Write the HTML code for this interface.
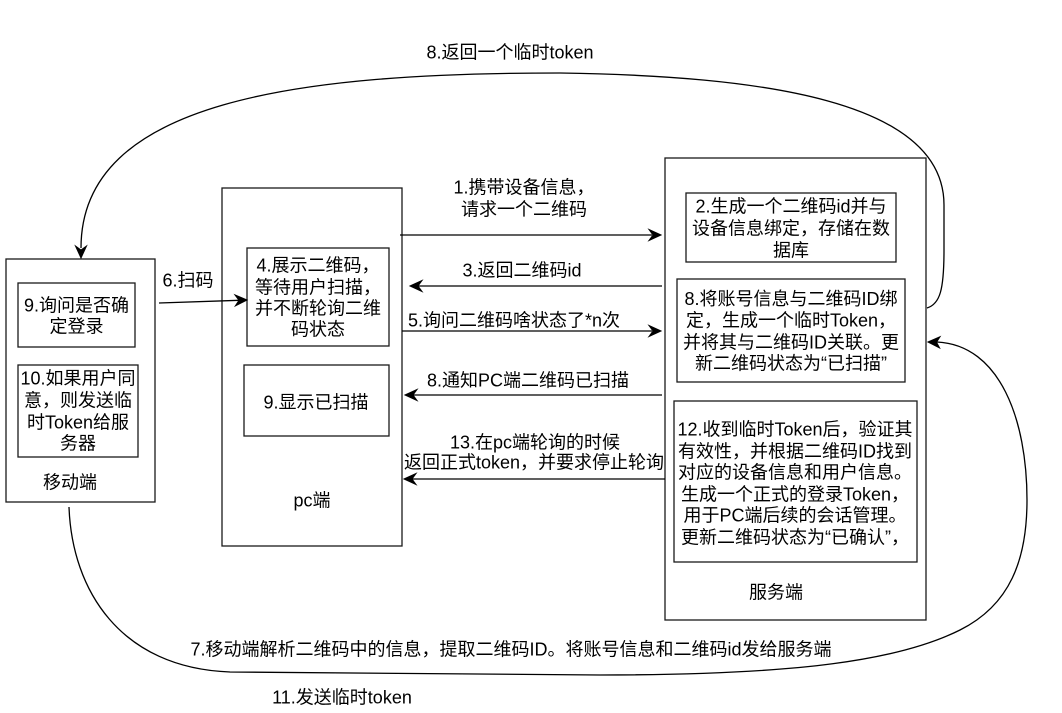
<!DOCTYPE html>
<html>
<head>
<meta charset="utf-8">
<style>
  html,body{margin:0;padding:0;background:#fff;}
  svg{display:block;}
  text{font-family:"Liberation Sans","Noto Sans CJK SC",sans-serif;font-size:18px;fill:#000;}
</style>
</head>
<body>
<svg width="1062" height="713" viewBox="0 0 1062 713" xmlns="http://www.w3.org/2000/svg">
  <rect x="0" y="0" width="1062" height="713" fill="#fff"/>
  <g fill="none" stroke="#1a1a1a" stroke-width="1.3">
    <!-- mobile -->
    <rect x="6" y="259" width="149" height="243"/>
    <rect x="18" y="283" width="117" height="64"/>
    <rect x="18" y="365" width="120" height="92"/>
    <!-- pc -->
    <rect x="222" y="188" width="180" height="358"/>
    <rect x="247" y="248" width="142" height="98"/>
    <rect x="244" y="365" width="145" height="71"/>
    <!-- server -->
    <rect x="665" y="158" width="261" height="462"/>
    <rect x="686" y="193" width="210" height="69"/>
    <rect x="677" y="279" width="228" height="103"/>
    <rect x="674" y="401" width="243" height="161"/>
  </g>

  <!-- straight arrows -->
  <g stroke="#000" stroke-width="1.3" fill="none">
    <line x1="400" y1="235" x2="652" y2="235"/>
    <line x1="662" y1="286" x2="418" y2="286"/>
    <line x1="402" y1="331" x2="652" y2="331"/>
    <line x1="662" y1="395" x2="413" y2="395"/>
    <line x1="665" y1="479" x2="412" y2="479"/>
    <line x1="159" y1="303" x2="239" y2="300.3"/>
    <!-- top curve -->
    <path d="M 927 308 C 940 304, 944 290, 944 250 L 944 205 C 944 100, 760 76, 560 73 C 300 73, 81 100, 81 248"/>
    <!-- bottom curve -->
    <path d="M 69 507 C 72 590, 120 668, 230 672 L 600 675 C 800 675, 900 660, 960 630 C 1010 605, 1027 560, 1027 500 C 1027 420, 1000 345, 937 342"/>
  </g>
  <g fill="#000" stroke="#000" stroke-width="1">
    <polygon points="661,235 649,229.5 653,235 649,240.5"/>
    <polygon points="410,286 422,280.5 418,286 422,291.5"/>
    <polygon points="661,331 649,325.5 653,331 649,336.5"/>
    <polygon points="405,395 417,389.5 413,395 417,400.5"/>
    <polygon points="404,479 416,473.5 412,479 416,484.5"/>
    <polygon points="247,300 235,294.9 239,300.3 235.4,305.9"/>
    <polygon points="81,258 75.5,246 81,250 86.5,246"/>
    <polygon points="928,342 940,336.8 936.5,342.2 939.6,348"/>
  </g>

  <!-- mobile texts -->
  <g text-anchor="middle">
    <text x="76.5" y="311.5">9.询问是否确</text>
    <text x="76.5" y="332.5">定登录</text>
    <text x="78" y="384.5">10.如果用户同</text>
    <text x="78" y="406.5">意，则发送临</text>
    <text x="78" y="428.5">时Token给服</text>
    <text x="78" y="449.5">务器</text>
    <text x="70" y="488.5">移动端</text>

    <!-- pc texts -->
    <text x="318" y="271.5">4.展示二维码，</text>
    <text x="318" y="293.5">等待用户扫描，</text>
    <text x="318" y="314.5">并不断轮询二维</text>
    <text x="318" y="335.5">码状态</text>
    <text x="316" y="408.5">9.显示已扫描</text>
    <text x="312" y="506.5">pc端</text>

    <!-- server texts -->
    <text x="791" y="212.5">2.生成一个二维码id并与</text>
    <text x="791" y="234.5">设备信息绑定，存储在数</text>
    <text x="791" y="256.5">据库</text>

    <text x="791" y="305">8.将账号信息与二维码ID绑</text>
    <text x="791" y="326.5">定，生成一个临时Token，</text>
    <text x="791" y="348.5">并将其与二维码ID关联。更</text>
    <text x="791" y="369.5">新二维码状态为“已扫描”</text>

    <text x="795" y="435.5">12.收到临时Token后，验证其</text>
    <text x="795" y="457.5">有效性，并根据二维码ID找到</text>
    <text x="795" y="478.5">对应的设备信息和用户信息。</text>
    <text x="795" y="500.5">生成一个正式的登录Token，</text>
    <text x="795" y="521.5">用于PC端后续的会话管理。</text>
    <text x="795" y="543.5">更新二维码状态为“已确认”，</text>
    <text x="776" y="598.5">服务端</text>

    <!-- edge labels -->
    <text x="524" y="193.5">1.携带设备信息，</text>
    <text x="524" y="215.5">请求一个二维码</text>
    <text x="522" y="276.5">3.返回二维码id</text>
    <text x="514" y="326.5">5.询问二维码啥状态了*n次</text>
    <text x="528" y="386.5">8.通知PC端二维码已扫描</text>
    <text x="535" y="448.5">13.在pc端轮询的时候</text>
    <text x="534" y="468.5">返回正式token，并要求停止轮询</text>
    <text x="188" y="286.5">6.扫码</text>
    <text x="510" y="58.5">8.返回一个临时token</text>
    <text x="511" y="655.5">7.移动端解析二维码中的信息，提取二维码ID。将账号信息和二维码id发给服务端</text>
    <text x="342" y="703.5">11.发送临时token</text>
  </g>
</svg>
</body>
</html>
